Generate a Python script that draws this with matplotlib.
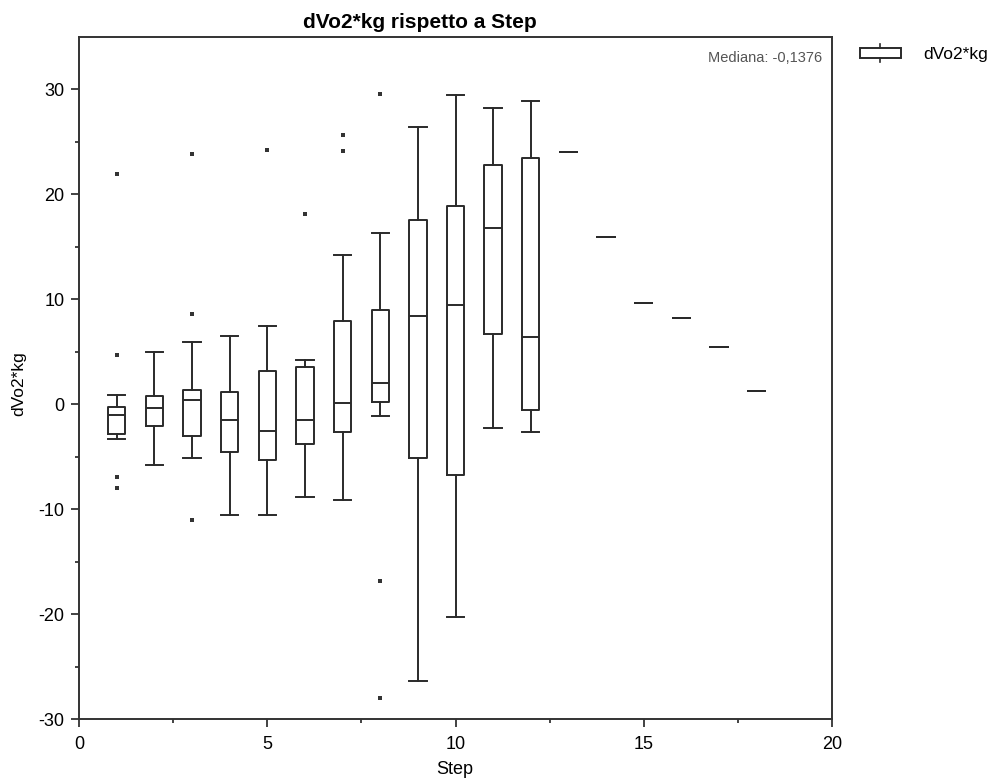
import matplotlib
matplotlib.use("Agg")
import matplotlib.pyplot as plt
from matplotlib.patches import Rectangle
from matplotlib.lines import Line2D

plt.rcParams['font.family'] = ['Liberation Sans', 'DejaVu Sans']
plt.rcParams['axes.unicode_minus'] = False

steps = [1, 2, 3, 4, 5, 6, 7, 8, 9, 10, 11, 12, 13, 14, 15, 16, 17, 18]
whis_low = [-3.32, -5.77, -5.17, -10.54, -10.54, -8.86, -9.14, -1.16, -26.4, -20.24, -2.24, -2.69, 24.0, 15.9, 9.59, 8.19, 5.45, 1.29]
q1 = [-2.84, -2.08, -3.0, -4.56, -5.36, -3.77, -2.69, 0.21, -5.17, -6.73, 6.66, -0.56, 24.0, 15.9, 9.59, 8.19, 5.45, 1.29]
median = [-1.03, -0.40, 0.37, -1.48, -2.56, -1.48, 0.08, 2.05, 8.35, 9.43, 16.8, 6.37, 24.0, 15.9, 9.59, 8.19, 5.45, 1.29]
q3 = [-0.24, 0.81, 1.32, 1.13, 3.13, 3.58, 7.9, 9.0, 17.5, 18.9, 22.8, 23.4, 24.0, 15.9, 9.59, 8.19, 5.45, 1.29]
whis_high = [0.84, 4.98, 5.9, 6.5, 7.42, 4.21, 14.2, 16.3, 26.35, 29.4, 28.2, 28.9, 24.0, 15.9, 9.59, 8.19, 5.45, 1.29]
outliers = [
    [21.96, 4.72, -6.95, -8.03],
    [],
    [23.8, 8.57, -11.08],
    [],
    [24.25],
    [18.1],
    [25.6, 24.1],
    [29.5, -16.9, -27.97],
    [], [], [], [], [], [], [], [], [], [],
]

title = "dVo2*kg rispetto a Step"
xlabel = "Step"
ylabel = "dVo2*kg"
median_note = "Mediana: -0,1376"
legend_label = "dVo2*kg"

fig = plt.figure(figsize=(9.97, 7.83), dpi=100)
ax = fig.add_axes([79/997, 1-719/783, (832-79)/997, (719-36.7)/783])

stats = []
for i, s in enumerate(steps):
    stats.append(dict(med=median[i], q1=q1[i], q3=q3[i], whislo=whis_low[i], whishi=whis_high[i], fliers=outliers[i]))

lc = '#2a2a2a'
ax.bxp(stats, positions=steps, widths=0.46, capwidths=0.46, showfliers=True, manage_ticks=False,
       boxprops=dict(color=lc, linewidth=1.4),
       medianprops=dict(color=lc, linewidth=1.4),
       whiskerprops=dict(color=lc, linewidth=1.4),
       capprops=dict(color=lc, linewidth=1.4),
       flierprops=dict(marker='s', markersize=2.6, markeredgewidth=0, markerfacecolor='#333333', linestyle='none'))

ax.set_xlim(0, 20)
ax.set_ylim(-30, 35)
ax.set_xticks([0, 5, 10, 15, 20])
ax.set_xticks([2.5, 7.5, 12.5, 17.5], minor=True)
ax.set_yticks([-30, -20, -10, 0, 10, 20, 30])
ax.set_yticks([-25, -15, -5, 5, 15, 25], minor=True)
ax.tick_params(which='major', length=6, width=1.2, color='#222222', labelsize=13)
ax.tick_params(axis='x', which='major', pad=6.5)
ax.tick_params(axis='y', which='major', pad=4.5)
ax.tick_params(which='minor', length=3, width=1.2, color='#222222')
for sp in ax.spines.values():
    sp.set_linewidth(1.4)
    sp.set_color('#333333')

ax.set_xlabel(xlabel, fontsize=13)
ax.xaxis.set_label_coords((455-79)/753, (719-770)/682.3)
ax.xaxis.label.set_va('center')
ax.set_ylabel(ylabel, fontsize=12.5)
ax.yaxis.set_label_coords((19-79)/753, (719-384)/682.3)
ax.yaxis.label.set_va('center')
ax.set_title(title, fontsize=15, fontweight='bold', pad=6, x=(420-79)/753)

ax.text(0.987, (719-58)/682.3, median_note, transform=ax.transAxes, ha='right', va='center', fontsize=10.5, color='#555555')

# legend symbol outside axes
fx = lambda px: px / 997
fy = lambda py: 1 - py / 783
fig.add_artist(Rectangle((fx(860), fy(58)), fx(901) - fx(860), fy(48) - fy(58), transform=fig.transFigure,
                         fill=False, edgecolor=lc, linewidth=1.4))
fig.add_artist(Line2D([fx(880), fx(880)], [fy(44), fy(48)], transform=fig.transFigure, color=lc, linewidth=1.2))
fig.add_artist(Line2D([fx(880), fx(880)], [fy(58), fy(62)], transform=fig.transFigure, color=lc, linewidth=1.2))
fig.text(fx(923), fy(55), legend_label, ha='left', va='center', fontsize=12.5)

fig.savefig('out.png', dpi=100)
